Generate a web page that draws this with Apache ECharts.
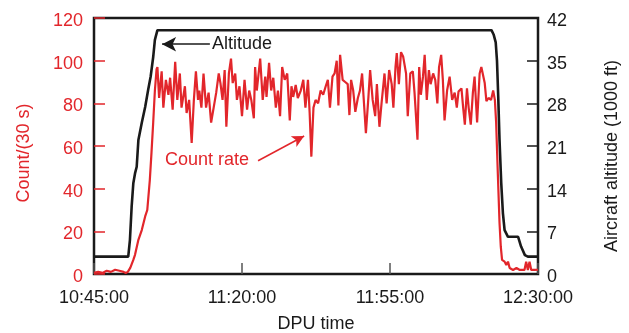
<!DOCTYPE html>
<html>
<head>
<meta charset="utf-8">
<script src="https://cdn.jsdelivr.net/npm/echarts@6/dist/echarts.min.js"></script>
<style>
  html, body { margin: 0; padding: 0; background: #fff; }
  #chart { width: 629px; height: 333px; }
</style>
</head>
<body>
<div id="chart"></div>
<script>
// x values are minutes after 10:45:00
const xTicks = [0, 35, 70, 105];
const startClock = [10, 45, 0];

// count rate, counts per 30 s
const countTimes = [
  0, 1, 2, 3, 4, 5, 6, 7, 7.5, 8, 8.6, 9.3, 9.7, 10.5, 11.3, 12.1, 12.6, 13.2, 13.6, 14.0, 14.4, 14.8,
  15.0, 15.4, 16.0, 16.4, 17.0, 17.6, 18.0, 18.6, 19.2, 19.7, 20.3, 20.7, 21.5, 21.9, 22.5, 23.1, 23.6,
  24.1, 24.6, 24.9, 25.4, 25.9, 26.5, 27.1, 27.7, 28.3, 28.9, 29.5, 29.9, 30.4, 30.9, 31.3, 31.9, 32.4,
  32.8, 33.4, 33.8, 34.4, 35.0, 35.6, 36.2, 36.7, 37.2, 37.8, 38.1, 38.5, 39.3, 39.9, 40.5, 40.8, 41.4,
  41.9, 42.4, 43.0, 43.5, 44.0, 44.5, 45.1, 45.7, 46.3, 46.7, 47.1, 47.7, 48.2, 48.9, 49.5, 50.0, 50.6,
  51.0, 51.4, 51.9, 52.4, 53.0, 53.6, 54.2, 54.8, 55.3, 55.8, 56.4, 56.9, 57.4, 57.8, 58.2, 58.8, 59.4,
  60.0, 60.4, 60.8, 61.3, 61.8, 62.4, 62.9, 63.4, 64.3, 64.9, 65.3, 65.9, 66.5, 66.9, 67.5, 68.0, 68.7,
  69.2, 69.8, 70.4, 70.8, 71.3, 71.6, 72.1, 72.6, 73.1, 73.8, 74.2, 74.8, 75.4, 75.8, 76.5, 76.9, 77.3,
  77.8, 78.2, 78.7, 79.2, 79.6, 80.2, 80.7, 81.2, 81.6, 82.1, 82.5, 82.9, 83.5, 84.1, 84.7, 85.3, 85.8,
  86.2, 86.9, 87.3, 87.7, 88.2, 88.6, 89.1, 89.6, 90.0, 90.6, 91.2, 91.6, 92.0, 92.4, 92.8, 93.3, 93.9,
  94.4, 94.8, 95.1, 95.5, 95.9, 96.2, 96.5, 97.1, 97.5, 97.9, 98.3, 98.7, 99.1, 99.9, 100.7, 101.8,
  102.2, 102.6, 103.0, 103.4, 104.2, 105
];
const countValues = [
  0.5, 1, 0.5, 1.5, 1, 2, 1.5, 1, 0.5, 1, 3, 6.6, 9, 16, 20.6, 27, 30, 44, 57, 71, 86, 96,
  97, 82.5, 95, 78, 91, 84, 92, 77, 99.5, 81.6, 94, 78, 88, 75.5, 81.6, 61.4, 81,
  95, 81.6, 86, 78, 94, 78, 85, 71, 78, 85, 94, 89.5, 81.6, 95.6, 69, 94, 101,
  89.5, 94, 81.6, 88, 74, 91, 77, 86, 81.6, 73, 97, 86, 101, 81.6, 92.5, 83, 99,
  86, 92, 78, 86, 74, 97, 91, 94, 72, 88, 83, 88.6, 82.5, 86, 91, 78, 91,
  75.5, 55, 78, 81.6, 80, 86, 84, 88, 91, 78, 92.5, 94, 100, 79, 102.7, 91, 90,
  89, 74.5, 91, 86, 76, 82.5, 86, 94, 66, 83, 95.6, 81.6, 74, 89, 69, 80, 94,
  80, 95.6, 89, 78, 97, 103.5, 89, 104, 102, 94, 74, 94, 95, 85, 63, 97, 84,
  92.5, 102.7, 81.6, 95.6, 89, 94, 91, 80, 97, 102.7, 91, 72, 86, 92.5, 81.6, 85, 78,
  85.5, 87, 78, 70, 87, 78, 70, 85, 92.5, 71, 94, 97, 96.6, 89.5, 81, 82.5, 81.6,
  86, 81.6, 71, 47, 24, 12.8, 6.6, 5.8, 4.2, 5.8, 2.8, 3.4, 1.9, 2.8, 1.9, 1.9,
  5.8, 1.9, 5.8, 1.9, 1.9, 2
];

// aircraft altitude, 1000 ft
const altTimes = [
  0, 8.1, 8.5, 8.9, 9.3, 9.7, 10.1, 10.5, 11.3, 12.1, 12.8, 13.4, 14.0, 14.4, 15.0,
  94.0, 94.5, 95.0, 95.3, 95.6, 95.9, 96.3, 96.7, 97.1, 97.9, 100.3, 101.0, 101.9, 102.6, 105
];
const altValues = [
  2.85, 2.85, 5.6, 11, 14.9, 16.5, 17.6, 22, 24.8, 27.4, 30.2, 32.4, 35.6, 38.4, 40,
  40, 39.3, 38, 35, 29, 22, 15, 10, 7.2, 6.1, 6.1, 4.5, 3.1, 2.85, 2.85
];

// annotation anchors in data units
const altArrow = [[27.4, 37.7], [16.1, 37.7]];
const altLabel = [27.9, 37.7];
const countArrow = [[38.8, 53.1], [49.7, 64.7]];
const countLabel = [16.8, 53.4];

const RED = '#e2262b';
const INK = '#1a1a1a';
const FONT = 'Liberation Sans, Arial, sans-serif';

function clockLabel(mins) {
  let total = startClock[0] * 3600 + startClock[1] * 60 + startClock[2] + Math.round(mins * 60);
  const h = Math.floor(total / 3600);
  const m = Math.floor((total % 3600) / 60);
  const s = total % 60;
  const pad = (n) => String(n).padStart(2, '0');
  return h + ':' + pad(m) + ':' + pad(s);
}

const chart = echarts.init(document.getElementById('chart'), null, { renderer: 'canvas' });

chart.setOption({
  animation: false,
  backgroundColor: '#fff',
  textStyle: { fontFamily: FONT },
  grid: {
    left: 94, right: 91, top: 18, bottom: 59,
    outerBoundsMode: 'none',
    containLabel: false,
    show: true, borderColor: INK, borderWidth: 2.5, backgroundColor: 'transparent'
  },
  xAxis: {
    type: 'value',
    min: xTicks[0],
    max: xTicks[xTicks.length - 1],
    interval: 35,
    name: 'DPU time',
    nameLocation: 'middle',
    nameGap: 41,
    nameTextStyle: { color: INK, fontSize: 18, fontFamily: FONT },
    axisLine: { show: false },
    axisTick: { show: true, inside: true, length: 11, lineStyle: { color: '#555', width: 1.5 } },
    axisLabel: {
      color: INK, fontSize: 18, fontFamily: FONT, margin: 15,
      showMinLabel: true, showMaxLabel: true,
      formatter: (v) => clockLabel(v)
    },
    splitLine: { show: false }
  },
  yAxis: [
    {
      type: 'value',
      min: 0, max: 120, interval: 20,
      position: 'left',
      name: 'Count/(30 s)',
      nameLocation: 'middle',
      nameRotate: 90,
      nameGap: 61,
      nameTextStyle: { color: RED, fontSize: 18, fontFamily: FONT, padding: [0, 14, 0, 0] },
      axisLine: { show: false },
      axisTick: { show: true, inside: true, length: 11, lineStyle: { color: RED, width: 1.5 } },
      axisLabel: {
        color: RED, fontSize: 18, fontFamily: FONT, margin: 11,
        showMinLabel: true, showMaxLabel: true,
        formatter: '{v|{value}}',
        rich: { v: { color: RED, fontSize: 18, fontFamily: FONT, padding: [6, 0, 0, 0] } }
      },
      splitLine: { show: false }
    },
    {
      type: 'value',
      min: 0, max: 42, interval: 7,
      position: 'right',
      name: 'Aircraft altitude (1000 ft)',
      nameLocation: 'middle',
      nameRotate: 90,
      nameGap: 65,
      nameTextStyle: { color: INK, fontSize: 18, fontFamily: FONT, padding: [0, 20, 0, 0] },
      axisLine: { show: false },
      axisTick: { show: true, inside: true, length: 11, lineStyle: { color: INK, width: 1.5 } },
      axisLabel: {
        color: INK, fontSize: 18, fontFamily: FONT, margin: 9,
        showMinLabel: true, showMaxLabel: true,
        formatter: '{v|{value}}',
        rich: { v: { color: INK, fontSize: 18, fontFamily: FONT, padding: [6, 0, 0, 0] } }
      },
      splitLine: { show: false }
    }
  ],
  series: [
    {
      name: 'Count rate',
      type: 'line',
      yAxisIndex: 0,
      data: countTimes.map((t, i) => [t, countValues[i]]),
      showSymbol: false,
      lineStyle: { color: RED, width: 2.2 },
      z: 2,
      markLine: {
        silent: true,
        symbol: ['none', 'arrow'],
        symbolSize: [9, 12],
        label: { show: false },
        lineStyle: { color: RED, width: 1.5, type: 'solid' },
        data: [[{ coord: countArrow[0] }, { coord: countArrow[1] }]]
      }
    },
    {
      name: 'Altitude',
      type: 'line',
      yAxisIndex: 1,
      data: altTimes.map((t, i) => [t, altValues[i]]),
      showSymbol: false,
      lineStyle: { color: INK, width: 2.6 },
      z: 3,
      markLine: {
        silent: true,
        symbol: ['none', 'arrow'],
        symbolSize: [11, 14],
        label: { show: false },
        lineStyle: { color: INK, width: 1.5, type: 'solid' },
        data: [[{ coord: altArrow[0] }, { coord: altArrow[1] }]]
      }
    }
  ]
});

// text labels anchored through the axes
const altPos = chart.convertToPixel({ xAxisIndex: 0, yAxisIndex: 1 }, altLabel);
const countPos = chart.convertToPixel({ xAxisIndex: 0, yAxisIndex: 0 }, countLabel);
chart.setOption({
  graphic: [
    {
      type: 'text', x: altPos[0], y: altPos[1],
      style: { text: 'Altitude', fill: INK, font: '18px ' + FONT, textAlign: 'left', textVerticalAlign: 'middle' }
    },
    {
      type: 'text', x: countPos[0], y: countPos[1],
      style: { text: 'Count rate', fill: RED, font: '18px ' + FONT, textAlign: 'left', textVerticalAlign: 'middle' }
    }
  ]
});
</script>
</body>
</html>
